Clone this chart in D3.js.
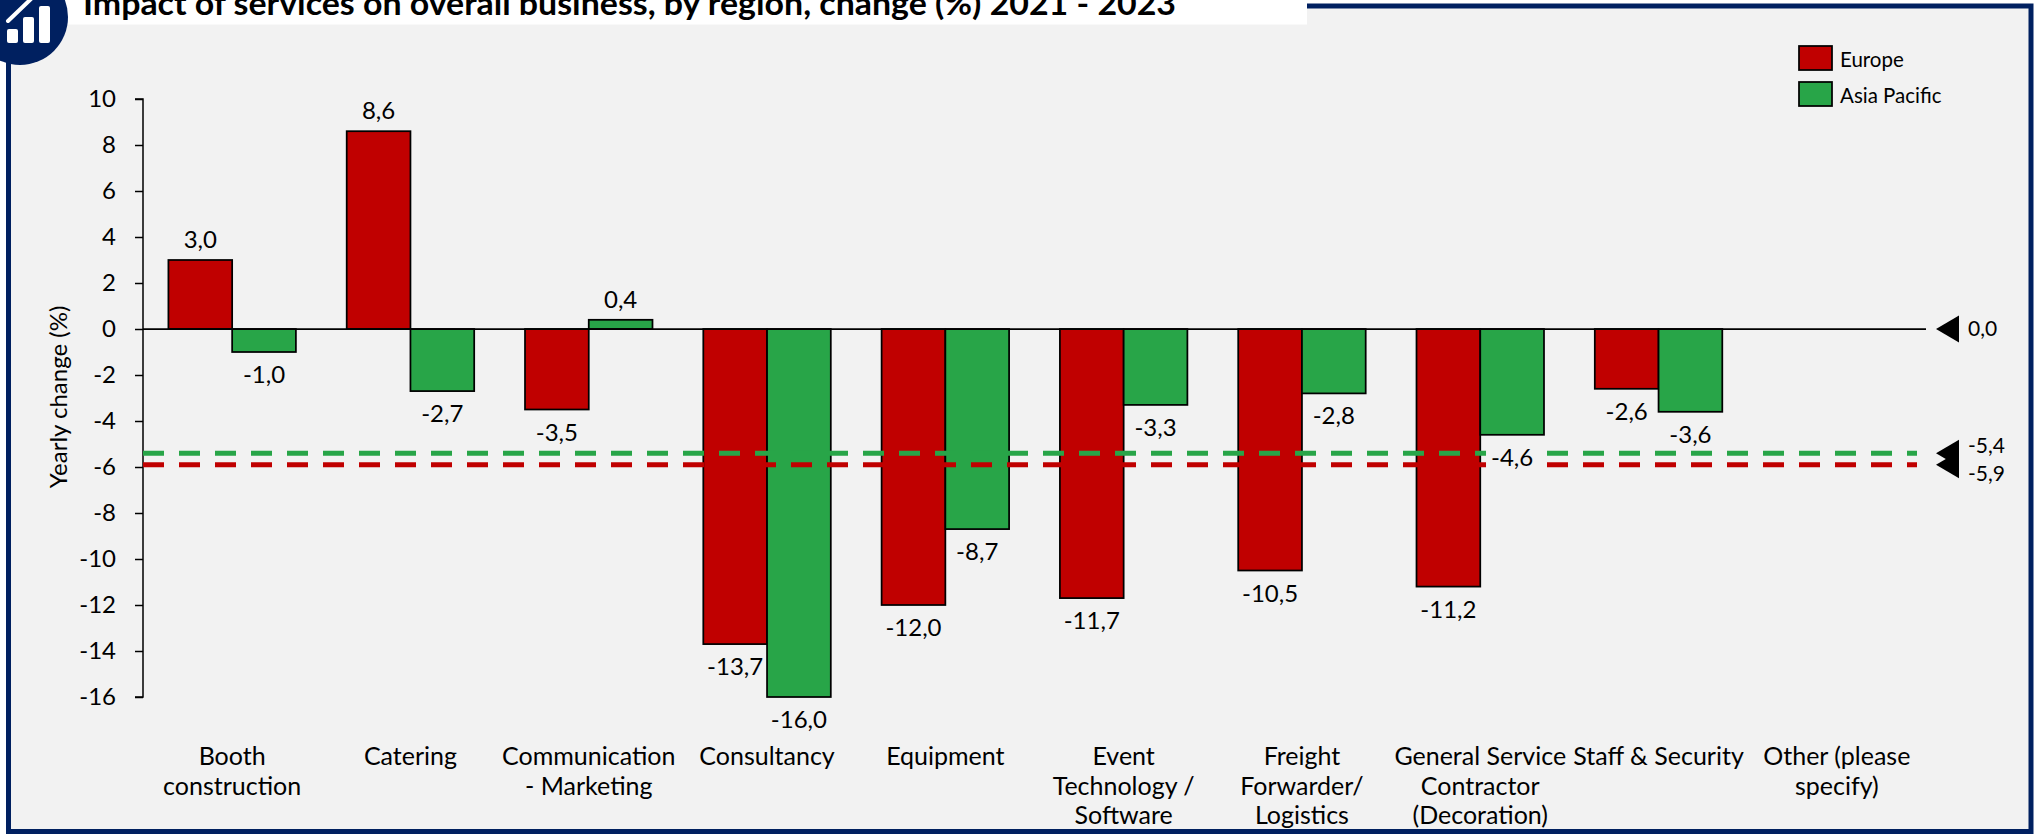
<!DOCTYPE html>
<html><head><meta charset="utf-8">
<script src="https://cdn.jsdelivr.net/npm/d3@7"></script>
<style>html,body{margin:0;padding:0;background:#fff}svg{display:block}text{font-family:Lato,"Open Sans",sans-serif;fill:#000}</style>
</head><body><div id="c"></div>
<script>
const titleText = "Impact of services on overall business, by region, change (%) 2021 - 2023";
const categories = ["Booth construction","Catering","Communication - Marketing","Consultancy","Equipment","Event Technology / Software","Freight Forwarder/ Logistics","General Service Contractor (Decoration)","Staff & Security","Other (please specify)"];
const categoryLines = [["Booth","construction"],["Catering"],["Communication","- Marketing"],["Consultancy"],["Equipment"],["Event","Technology /","Software"],["Freight","Forwarder/","Logistics"],["General Service","Contractor","(Decoration)"],["Staff & Security"],["Other (please","specify)"]];
const seriesNames = ["Europe","Asia Pacific"];
const seriesColors = ["#c00000","#28a548"];
const europe = [3.0,8.6,-3.5,-13.7,-12.0,-11.7,-10.5,-11.2,-2.6,null];
const asiaPacific = [-1.0,-2.7,0.4,-16.0,-8.7,-3.3,-2.8,-4.6,-3.6,null];
const yTicks = [10,8,6,4,2,0,-2,-4,-6,-8,-10,-12,-14,-16];
const refValues = [0.0,-5.4,-5.9];
const refLabelNudge = [0,-7,9];
const dashedRefs = [{v:-5.4,c:1},{v:-5.9,c:0}];

const W=2034,H=834;
const fmt = v => v.toFixed(1).replace(".",",");
const svg = d3.select("#c").append("svg").attr("width",W).attr("height",H);
svg.append("rect").attr("x",8.5).attr("y",6).attr("width",W-8.5-3).attr("height",H-6-2.5).attr("fill","#f2f2f2").attr("stroke","#002060").attr("stroke-width",5);
svg.append("rect").attr("x",50).attr("y",0).attr("width",1257).attr("height",24.5).attr("fill","#fff");
svg.append("text").attr("x",83).attr("y",15).attr("font-size",31.5).attr("font-weight",700).attr("textLength",1093).attr("lengthAdjust","spacingAndGlyphs").text(titleText);
// icon
svg.append("circle").attr("cx",20).attr("cy",17).attr("r",48).attr("fill","#002060");
const icon = svg.append("g");
[[7,29,11,14],[23,17,11,26],[39,6,11,37]].forEach(r=>icon.append("rect").attr("x",r[0]).attr("y",r[1]).attr("width",r[2]).attr("height",r[3]).attr("rx",2).attr("fill","#fff"));
icon.append("line").attr("x1",8).attr("y1",21).attr("x2",32).attr("y2",-2).attr("stroke","#fff").attr("stroke-width",4).attr("stroke-linecap","round");

const y = d3.scaleLinear().domain([10,-16]).range([99,697]);
const x = d3.scaleBand().domain(categories).range([143,1926]).paddingInner(0.285).paddingOuter(0.1425);
const x1 = d3.scaleBand().domain(seriesNames).range([0,x.bandwidth()]);
const series = [europe,asiaPacific];

// y axis
const ya = svg.append("g").attr("transform","translate(143,0)").call(d3.axisLeft(y).tickValues(yTicks).tickSize(8).tickPadding(19).tickFormat(d=>d));
ya.selectAll("path,line").attr("stroke","#000").attr("stroke-width",1.5);
ya.select(".domain").attr("d",`M-8,${y(10)}H0V${y(-16)}H-8`).attr("fill","none");
ya.selectAll("text").attr("font-size",24).attr("font-family","Lato");
svg.append("text").attr("transform","translate(67,397) rotate(-90)").attr("text-anchor","middle").attr("font-size",24).text("Yearly change (%)");

// bars
series.forEach((vals,si)=>{
  const g = svg.append("g");
  const rows = categories.map((c,i)=>({c,v:vals[i]})).filter(d=>d.v!==null);
  g.selectAll("rect").data(rows).join("rect")
    .attr("x",d=>x(d.c)+x1(seriesNames[si]))
    .attr("width",x1.bandwidth())
    .attr("y",d=>Math.min(y(d.v),y(0)))
    .attr("height",d=>Math.abs(y(d.v)-y(0)))
    .attr("fill",seriesColors[si]).attr("stroke","#000").attr("stroke-width",1.75);
});
// zero line
svg.append("line").attr("x1",143).attr("x2",1926).attr("y1",y(0)).attr("y2",y(0)).attr("stroke","#000").attr("stroke-width",1.75);
// dashed
dashedRefs.forEach(r=>{
  svg.append("line").attr("x1",143).attr("x2",1917).attr("y1",y(r.v)).attr("y2",y(r.v)).attr("stroke",seriesColors[r.c]).attr("stroke-width",5).attr("stroke-dasharray","21 15");
});
// value labels
series.forEach((vals,si)=>{
  const rows = categories.map((c,i)=>({c,v:vals[i]})).filter(d=>d.v!==null);
  svg.append("g").selectAll("text").data(rows).join("text")
    .attr("x",d=>x(d.c)+x1(seriesNames[si])+x1.bandwidth()/2)
    .attr("y",d=>d.v>=0?y(d.v)-12:y(d.v)+31)
    .attr("text-anchor","middle").attr("font-size",24).text(d=>fmt(d.v))
    .each(function(){
      // a label that sits on the dashed lines gets a panel-coloured box behind it
      const b = this.getBBox();
      if (b.y < y(-5.4) && b.y+b.height > y(-5.4)) {
        d3.select(this.parentNode).insert("rect",()=>this)
          .attr("x",b.x-5).attr("y",b.y).attr("width",b.width+10).attr("height",b.height).attr("fill","#f2f2f2");
      }
    });
});
// category labels
categories.forEach((c,i)=>{
  const t = svg.append("text").attr("text-anchor","middle").attr("font-size",25);
  categoryLines[i].forEach((l,j)=>t.append("tspan").attr("x",x(c)+x.bandwidth()/2).attr("y",765+j*29.5).text(l));
});
// markers
refValues.forEach((v,i)=>{
  svg.append("path").attr("transform",`translate(0,${y(v)})`).attr("d","M1936,0L1959,-13.5V13.5Z").attr("fill","#000");
  svg.append("text").attr("x",1968).attr("y",y(v)+refLabelNudge[i]+7).attr("font-size",21).text(fmt(v));
});
// legend
seriesNames.forEach((n,i)=>{
  const ly = 46+i*36;
  svg.append("rect").attr("x",1799).attr("y",ly).attr("width",33).attr("height",24).attr("fill",seriesColors[i]).attr("stroke","#000").attr("stroke-width",1.75);
  svg.append("text").attr("x",1840).attr("y",ly+21).attr("font-size",20.5).text(n);
});
</script></body></html>
